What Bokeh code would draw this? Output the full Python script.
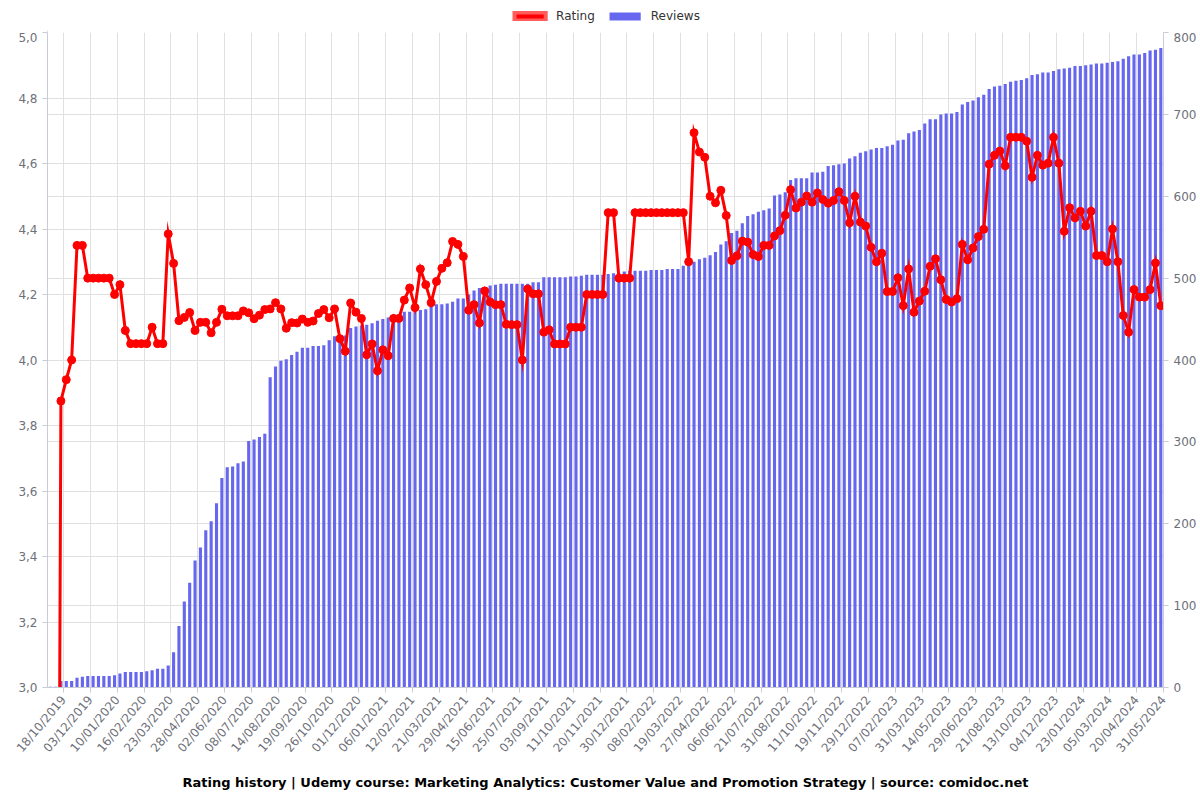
from bokeh.plotting import figure
from bokeh.layouts import column
from bokeh.models import (Range1d, LinearAxis, FixedTicker, Grid, Legend, LegendItem,
                          Title, CustomJSTickFormatter)
from bokeh.embed import file_html
from bokeh.resources import INLINE

# ---- data ----
rating = [
    0, 0, 3.875, 3.94, 4.0, 4.35, 4.35, 4.25, 4.25, 4.25,
    4.25, 4.25, 4.2, 4.23, 4.09, 4.05, 4.05, 4.05, 4.05, 4.10,
    4.05, 4.05, 4.385, 4.295, 4.12, 4.13, 4.145, 4.09, 4.115, 4.115,
    4.083, 4.115, 4.155, 4.135, 4.135, 4.135, 4.15, 4.144, 4.126, 4.137,
    4.154, 4.156, 4.175, 4.156, 4.097, 4.114, 4.113, 4.125, 4.115, 4.119,
    4.142, 4.154, 4.129, 4.156, 4.065, 4.027, 4.174, 4.146, 4.127, 4.016,
    4.049, 3.967, 4.031, 4.013, 4.127, 4.127, 4.183, 4.22, 4.16, 4.278,
    4.23, 4.175, 4.24, 4.28, 4.297, 4.362, 4.353, 4.316, 4.152, 4.169,
    4.113, 4.211, 4.177, 4.169, 4.169, 4.109, 4.108, 4.108, 4.0, 4.217,
    4.202, 4.202, 4.085, 4.092, 4.049, 4.049, 4.049, 4.1, 4.1, 4.1,
    4.2, 4.2, 4.2, 4.2, 4.45, 4.45, 4.25, 4.25, 4.25, 4.45,
    4.45, 4.45, 4.45, 4.45, 4.45, 4.45, 4.45, 4.45, 4.45, 4.30,
    4.694, 4.635, 4.619, 4.5, 4.48, 4.518, 4.441, 4.304, 4.318, 4.363,
    4.36, 4.322, 4.316, 4.35, 4.35, 4.379, 4.395, 4.442, 4.52, 4.464,
    4.482, 4.501, 4.482, 4.51, 4.49, 4.479, 4.487, 4.514, 4.487, 4.419,
    4.50, 4.421, 4.409, 4.344, 4.30, 4.326, 4.209, 4.209, 4.251, 4.166,
    4.278, 4.146, 4.18, 4.21, 4.286, 4.309, 4.245, 4.185, 4.177, 4.187,
    4.353, 4.306, 4.342, 4.377, 4.399, 4.598, 4.625, 4.638, 4.593, 4.68,
    4.68, 4.68, 4.668, 4.558, 4.625, 4.595, 4.601, 4.68, 4.601, 4.393,
    4.465, 4.434, 4.454, 4.409, 4.454, 4.319, 4.319, 4.30, 4.40, 4.30,
    4.136, 4.085, 4.215, 4.192, 4.192, 4.215, 4.296, 4.166,
]

reviews = [
    1, 1, 8, 8, 8, 12, 13, 14, 14, 14,
    14, 14, 15, 17, 19, 19, 19, 19, 20, 21,
    23, 23, 27, 43, 75, 105, 128, 155, 171, 192,
    203, 225, 256, 269, 270, 274, 276, 301, 303, 306,
    310, 379, 392, 399, 401, 406, 410, 415, 415, 417,
    417, 418, 424, 429, 429, 430, 439, 441, 442, 443,
    445, 448, 450, 452, 456, 456, 459, 459, 460, 461,
    462, 466, 468, 468, 469, 471, 475, 475, 480, 485,
    488, 489, 491, 492, 493, 493, 493, 493, 493, 493,
    495, 495, 501, 501, 501, 501, 501, 502, 502, 503,
    504, 504, 504, 504, 505, 506, 506, 508, 509, 509,
    509, 509, 510, 510, 510, 511, 511, 511, 515, 517,
    520, 523, 525, 528, 532, 541, 545, 555, 558, 567,
    576, 578, 581, 583, 585, 601, 602, 605, 620, 622,
    622, 622, 629, 629, 630, 637, 638, 639, 640, 646,
    649, 653, 655, 657, 659, 659, 661, 663, 668, 669,
    677, 679, 681, 689, 694, 694, 700, 701, 701, 703,
    712, 715, 717, 721, 724, 731, 734, 735, 737, 740,
    741, 742, 744, 748, 749, 751, 751, 753, 755, 756,
    757, 759, 759, 760, 761, 762, 762, 763, 764, 765,
    768, 771, 773, 773, 775, 778, 779, 781,
]

tick_labels = [
    "18/10/2019", "03/12/2019", "10/01/2020", "16/02/2020", "23/03/2020", "28/04/2020",
    "02/06/2020", "08/07/2020", "14/08/2020", "19/09/2020", "26/10/2020", "01/12/2020",
    "06/01/2021", "12/02/2021", "21/03/2021", "29/04/2021", "15/06/2021", "25/07/2021",
    "03/09/2021", "11/10/2021", "20/11/2021", "30/12/2021", "08/02/2022", "19/03/2022",
    "27/04/2022", "06/06/2022", "21/07/2022", "31/08/2022", "11/10/2022", "19/11/2022",
    "29/12/2022", "07/02/2023", "31/03/2023", "14/05/2023", "29/06/2023", "21/08/2023",
    "13/10/2023", "04/12/2023", "23/01/2024", "05/03/2024", "20/04/2024", "31/05/2024",
]
first_label_index = 2
label_step = 5

rating_ticks = [3.0, 3.2, 3.4, 3.6, 3.8, 4.0, 4.2, 4.4, 4.6, 4.8, 5.0]
review_ticks = [0, 100, 200, 300, 400, 500, 600, 700, 800]

title_text = ("Rating history | Udemy course: Marketing Analytics: Customer Value and "
              "Promotion Strategy | source: comidoc.net")

# ---- styling constants ----
N = len(rating)
xc = [i + 0.5 for i in range(N)]
FONT = "DejaVu Sans"
LABEL_COLOR = "#6e7079"
GRID_COLOR = "#e0e0e0"
AXIS_COLOR = "#c8ccd6"
BAR_COLOR = "#6666ee"
LINE_COLOR = "#ff0000"
LEGEND_H = 32

# ---- legend strip (separate small figure above the chart) ----
lf = figure(width=1200, height=LEGEND_H, x_range=Range1d(0, 1), y_range=Range1d(0, 1),
            output_backend="svg", toolbar_location=None, title=None,
            x_axis_type=None, y_axis_type=None, min_border=0,
            outline_line_color=None, background_fill_color="white", border_fill_color="white")
lf.xgrid.visible = False
lf.ygrid.visible = False
# zero-size proxies placed outside the visible range: only their legend swatches show
leg_rating = lf.vbar(x=[-5], top=[0], bottom=[0], width=0, fill_color=LINE_COLOR,
                     line_color="#ff5c5c", line_width=4, line_join="miter")
leg_reviews = lf.vbar(x=[-5], top=[0], bottom=[0], width=0, fill_color=BAR_COLOR,
                      line_color=None)
legend = Legend(items=[LegendItem(label="Rating", renderers=[leg_rating]),
                       LegendItem(label="Reviews", renderers=[leg_reviews])],
                orientation="horizontal", location="center",
                glyph_width=39, glyph_height=10, label_standoff=7, spacing=10,
                padding=4, margin=0, border_line_color=None, background_fill_alpha=0,
                label_text_font=FONT, label_text_font_size="12px", label_text_color="#333333")
lf.add_layout(legend, "center")

# ---- main chart ----
p = figure(width=1200, height=800 - LEGEND_H, x_range=Range1d(0, N), y_range=Range1d(3, 5),
           output_backend="svg", toolbar_location=None, title=None,
           min_border_left=47, min_border_right=37, min_border_top=0, min_border_bottom=113,
           background_fill_color="white", border_fill_color="white", outline_line_color=None)
p.extra_y_ranges = {"reviews": Range1d(0, 800)}

# tick marks / vertical grid at category boundaries after each labelled category
xt = [first_label_index + 1 + label_step * j for j in range(len(tick_labels))]
p.xaxis.ticker = FixedTicker(ticks=xt)
p.xaxis.major_label_overrides = {t: lab for t, lab in zip(xt, tick_labels)}
p.xaxis.major_label_orientation = 0.8727

p.yaxis.ticker = FixedTicker(ticks=rating_ticks)
p.yaxis.formatter = CustomJSTickFormatter(code="return tick.toFixed(1).replace('.', ',');")

right = LinearAxis(y_range_name="reviews", ticker=FixedTicker(ticks=review_ticks))
p.add_layout(right, "right")

for ax in [p.xaxis[0], p.yaxis[0], right]:
    ax.axis_line_color = AXIS_COLOR
    ax.major_tick_line_color = AXIS_COLOR
    ax.minor_tick_line_color = None
    ax.major_tick_in = 0
    ax.major_tick_out = 5
    ax.major_label_text_color = LABEL_COLOR
    ax.major_label_text_font = FONT
    ax.major_label_text_font_size = "12px"
    ax.major_label_standoff = 5

p.xgrid.grid_line_color = GRID_COLOR
p.ygrid.grid_line_color = GRID_COLOR
p.add_layout(Grid(dimension=1, ticker=right.ticker, y_range_name="reviews",
                  grid_line_color=GRID_COLOR))

p.vbar(x=xc, top=reviews, width=0.58, y_range_name="reviews",
       fill_color=BAR_COLOR, line_color=None)
p.line(xc, rating, line_color=LINE_COLOR, line_width=3, line_join="miter")
p.scatter(xc, rating, size=8, fill_color=LINE_COLOR, line_color=LINE_COLOR)

p.add_layout(Title(text=title_text, align="center", text_font=FONT, text_font_size="13px",
                   text_font_style="bold", text_color="#000000", standoff=20), "below")

layout = column(lf, p, spacing=0)
open("out.html", "w").write(file_html(layout, INLINE))
